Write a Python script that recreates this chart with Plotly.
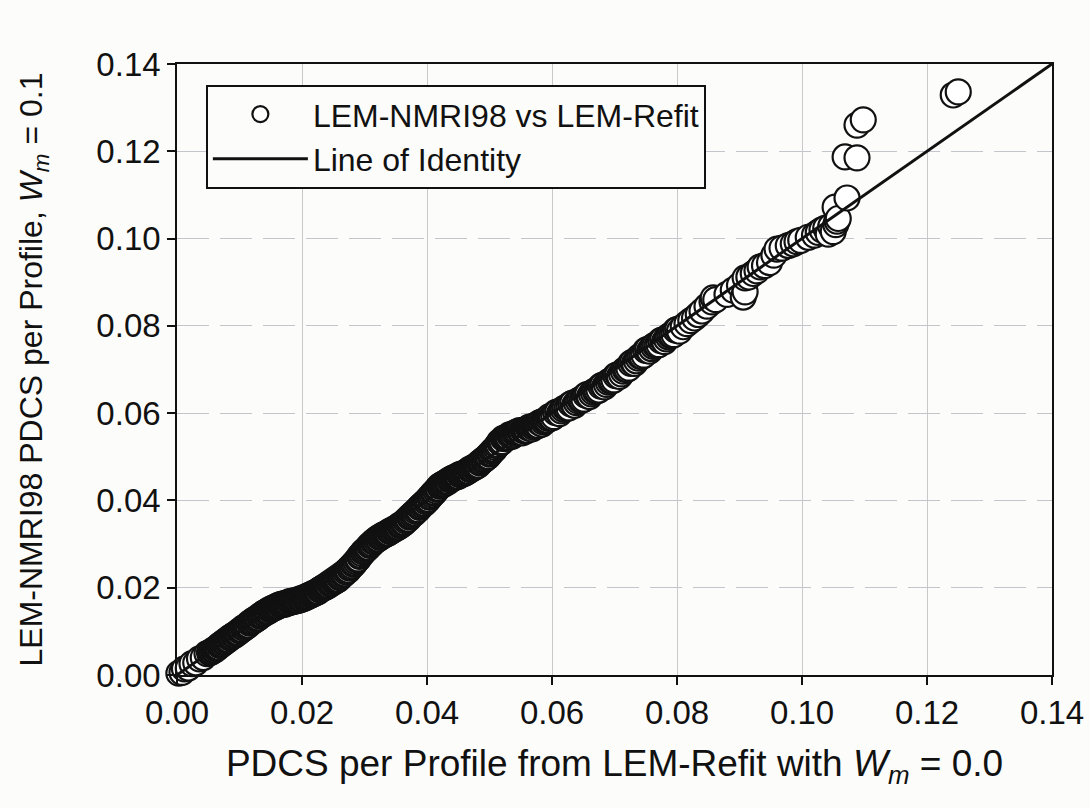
import plotly.graph_objects as go

# ---- data (PDCS per profile) ----
refit_x = [
    0.0003, 0.0008, 0.0012, 0.0018, 0.0024, 0.0030, 0.0036, 0.0042, 0.0048,
    0.0052, 0.0056, 0.0060, 0.0064, 0.0068, 0.0072, 0.0076, 0.0080, 0.0084, 0.0088,
    0.0092, 0.0096, 0.0100, 0.0104, 0.0108, 0.0112, 0.0116, 0.0120, 0.0124, 0.0128,
    0.0132, 0.0136, 0.0140, 0.0144, 0.0148, 0.0152, 0.0156, 0.0160, 0.0164, 0.0168,
    0.0172, 0.0176, 0.0180, 0.0184, 0.0188, 0.0192, 0.0196, 0.0200, 0.0204, 0.0208,
    0.0212, 0.0216, 0.0220, 0.0224, 0.0228, 0.0232, 0.0236, 0.0240, 0.0244, 0.0248,
    0.0252, 0.0256, 0.0260, 0.0264, 0.0268, 0.0272, 0.0276, 0.0280, 0.0284, 0.0288,
    0.0292, 0.0296, 0.0300, 0.0304, 0.0308, 0.0312, 0.0316, 0.0320, 0.0324, 0.0328,
    0.0332, 0.0336, 0.0340, 0.0344, 0.0348, 0.0352, 0.0356, 0.0360, 0.0364, 0.0368,
    0.0372, 0.0376, 0.0380, 0.0384, 0.0388, 0.0392, 0.0396, 0.0400, 0.0404, 0.0408,
    0.0412, 0.0416, 0.0420, 0.0424, 0.0428, 0.0432, 0.0436, 0.0440, 0.0444, 0.0448,
    0.0452, 0.0456, 0.0460, 0.0464, 0.0468, 0.0472, 0.0476, 0.0480, 0.0484, 0.0488,
    0.0492, 0.0496, 0.0500, 0.0504, 0.0508, 0.0512, 0.0516, 0.0520, 0.0524, 0.0528,
    0.0532, 0.0536, 0.0540, 0.0544, 0.0548, 0.0552, 0.0556, 0.0560, 0.0564, 0.0568,
    0.0572, 0.0576, 0.0580, 0.0584, 0.0588, 0.0592, 0.0596, 0.0600,
    0.0606, 0.0612, 0.0618, 0.0624, 0.0630, 0.0636, 0.0642, 0.0648, 0.0654, 0.0660,
    0.0666, 0.0672, 0.0678, 0.0684, 0.0690, 0.0696, 0.0702, 0.0708, 0.0714, 0.0720,
    0.0726, 0.0732, 0.0738, 0.0744, 0.0750, 0.0756, 0.0762, 0.0768, 0.0774, 0.0780,
    0.0786, 0.0792, 0.0798, 0.0804,
    0.0810, 0.0816, 0.0822, 0.0828, 0.0834, 0.0840, 0.0848, 0.0856, 0.0858, 0.0862,
    0.0880, 0.0890, 0.0900, 0.0906, 0.0909, 0.0909, 0.0915, 0.0922, 0.0928, 0.0933,
    0.0940, 0.0948, 0.0955, 0.0960, 0.0968, 0.0978, 0.0986, 0.0992, 0.0998, 0.1010,
    0.1020, 0.1026, 0.1032, 0.1038, 0.1042, 0.1046, 0.1050, 0.1054, 0.1056, 0.1058,
    0.1053, 0.1072, 0.1069, 0.1088, 0.1088, 0.1098, 0.1242, 0.1250,
]
nmri_y = [
    0.0004, 0.0006, 0.0014, 0.0016, 0.0026, 0.0028, 0.0037, 0.0040, 0.0049,
    0.0051, 0.0054, 0.0057, 0.0062, 0.0068, 0.0071, 0.0075, 0.0080, 0.0085, 0.0088,
    0.0091, 0.0096, 0.0101, 0.0104, 0.0108, 0.0113, 0.0119, 0.0122, 0.0125, 0.0130,
    0.0135, 0.0138, 0.0141, 0.0146, 0.0150, 0.0152, 0.0154, 0.0158, 0.0161, 0.0162,
    0.0162, 0.0165, 0.0168, 0.0168, 0.0169, 0.0171, 0.0174, 0.0174, 0.0176, 0.0180,
    0.0183, 0.0185, 0.0187, 0.0191, 0.0195, 0.0198, 0.0200, 0.0204, 0.0209, 0.0211,
    0.0214, 0.0218, 0.0223, 0.0228, 0.0232, 0.0239, 0.0245, 0.0250, 0.0256, 0.0264,
    0.0272, 0.0278, 0.0284, 0.0290, 0.0297, 0.0301, 0.0306, 0.0312, 0.0316, 0.0318,
    0.0321, 0.0325, 0.0329, 0.0331, 0.0334, 0.0338, 0.0343, 0.0345, 0.0349, 0.0356,
    0.0362, 0.0367, 0.0371, 0.0378, 0.0384, 0.0389, 0.0393, 0.0400, 0.0407, 0.0413,
    0.0418, 0.0426, 0.0433, 0.0436, 0.0438, 0.0443, 0.0447, 0.0450, 0.0452, 0.0455,
    0.0459, 0.0460, 0.0462, 0.0466, 0.0471, 0.0473, 0.0476, 0.0480, 0.0486, 0.0490,
    0.0494, 0.0500, 0.0506, 0.0512, 0.0517, 0.0525, 0.0534, 0.0535, 0.0542, 0.0543,
    0.0550, 0.0547, 0.0554, 0.0554, 0.0560, 0.0555, 0.0561, 0.0561, 0.0568, 0.0564,
    0.0571, 0.0571, 0.0578, 0.0575, 0.0583, 0.0584, 0.0592, 0.0589,
    0.0601, 0.0599, 0.0609, 0.0611, 0.0621, 0.0618, 0.0628, 0.0630, 0.0641, 0.0638,
    0.0648, 0.0651, 0.0662, 0.0660, 0.0671, 0.0674, 0.0686, 0.0684, 0.0696, 0.0700,
    0.0714, 0.0714, 0.0726, 0.0730, 0.0744, 0.0742, 0.0753, 0.0755, 0.0766, 0.0764,
    0.0775, 0.0778, 0.0790, 0.0788,
    0.0798, 0.0805, 0.0812, 0.0818, 0.0826, 0.0834, 0.0845, 0.0855, 0.0864, 0.0860,
    0.0872, 0.0882, 0.0893, 0.0866, 0.0878, 0.0910, 0.0912, 0.0920, 0.0926, 0.0935,
    0.0938, 0.0945, 0.0962, 0.0976, 0.0978, 0.0984, 0.0988, 0.0993, 0.0996, 0.1003,
    0.1008, 0.1014, 0.1020, 0.1024, 0.1010, 0.1028, 0.1016, 0.1032, 0.1040, 0.1046,
    0.1072, 0.1093, 0.1187, 0.1185, 0.1260, 0.1272, 0.1329, 0.1336,
]
# further profiles in the densely packed (dark) part of the cloud
refit_x_dense = [
    0.0054, 0.0058, 0.0062, 0.0066, 0.0070, 0.0074, 0.0078, 0.0082, 0.0086, 0.0090,
    0.0094, 0.0098, 0.0102, 0.0106, 0.0110, 0.0114, 0.0118, 0.0122, 0.0126, 0.0130,
    0.0134, 0.0138, 0.0142, 0.0146, 0.0150, 0.0154, 0.0158, 0.0162, 0.0166, 0.0170,
    0.0174, 0.0178, 0.0182, 0.0186, 0.0190, 0.0194, 0.0198, 0.0202, 0.0206, 0.0210,
    0.0214, 0.0218, 0.0222, 0.0226, 0.0230, 0.0234, 0.0238, 0.0242, 0.0246, 0.0250,
    0.0254, 0.0258, 0.0262, 0.0266, 0.0270, 0.0274, 0.0278, 0.0282, 0.0286, 0.0290,
    0.0294, 0.0298, 0.0302, 0.0306, 0.0310, 0.0314, 0.0318, 0.0322, 0.0326, 0.0330,
    0.0334, 0.0338, 0.0342, 0.0346, 0.0350, 0.0354, 0.0358, 0.0362, 0.0366, 0.0370,
    0.0374, 0.0378, 0.0382, 0.0386, 0.0390, 0.0394, 0.0398, 0.0402, 0.0406, 0.0410,
    0.0414, 0.0418, 0.0422, 0.0426, 0.0430, 0.0434, 0.0438, 0.0442, 0.0446, 0.0450,
    0.0454, 0.0458, 0.0462, 0.0466, 0.0470, 0.0474, 0.0478, 0.0482, 0.0486, 0.0490,
    0.0494, 0.0498, 0.0502, 0.0506, 0.0510, 0.0514,
    0.0518, 0.0522, 0.0526, 0.0530, 0.0534, 0.0538, 0.0542, 0.0546, 0.0550, 0.0554,
    0.0558, 0.0562, 0.0566, 0.0570, 0.0574, 0.0578, 0.0582, 0.0586, 0.0590, 0.0594,
    0.0598,
    0.0603, 0.0609, 0.0615, 0.0621, 0.0627, 0.0633, 0.0639, 0.0645, 0.0651, 0.0657,
    0.0663, 0.0669, 0.0675, 0.0681, 0.0687, 0.0693, 0.0699, 0.0705, 0.0711, 0.0717,
    0.0723, 0.0729, 0.0735, 0.0741, 0.0747, 0.0753, 0.0759, 0.0765, 0.0771, 0.0777,
    0.0783, 0.0789, 0.0795, 0.0801,
]
nmri_y_dense = [
    0.0052, 0.0057, 0.0060, 0.0064, 0.0069, 0.0074, 0.0078, 0.0081, 0.0086, 0.0091,
    0.0094, 0.0097, 0.0102, 0.0108, 0.0111, 0.0114, 0.0120, 0.0125, 0.0128, 0.0131,
    0.0136, 0.0141, 0.0144, 0.0146, 0.0150, 0.0154, 0.0156, 0.0158, 0.0161, 0.0163,
    0.0164, 0.0165, 0.0167, 0.0170, 0.0170, 0.0171, 0.0173, 0.0177, 0.0178, 0.0180,
    0.0183, 0.0187, 0.0189, 0.0191, 0.0196, 0.0200, 0.0202, 0.0205, 0.0209, 0.0214,
    0.0216, 0.0219, 0.0225, 0.0231, 0.0236, 0.0240, 0.0247, 0.0254, 0.0260, 0.0266,
    0.0274, 0.0282, 0.0287, 0.0292, 0.0298, 0.0305, 0.0309, 0.0312, 0.0316, 0.0321,
    0.0323, 0.0325, 0.0329, 0.0334, 0.0336, 0.0339, 0.0343, 0.0348, 0.0353, 0.0357,
    0.0364, 0.0370, 0.0375, 0.0379, 0.0386, 0.0392, 0.0397, 0.0402, 0.0409, 0.0417,
    0.0422, 0.0428, 0.0434, 0.0438, 0.0441, 0.0443, 0.0448, 0.0452, 0.0454, 0.0455,
    0.0459, 0.0462, 0.0464, 0.0467, 0.0471, 0.0476, 0.0478, 0.0481, 0.0487, 0.0493,
    0.0497, 0.0501, 0.0508, 0.0515, 0.0521, 0.0528,
    0.0532, 0.0542, 0.0543, 0.0545, 0.0550, 0.0550, 0.0556, 0.0556, 0.0557, 0.0560,
    0.0559, 0.0566, 0.0566, 0.0568, 0.0572, 0.0572, 0.0579, 0.0580, 0.0583, 0.0588,
    0.0589,
    0.0592, 0.0603, 0.0605, 0.0612, 0.0612, 0.0623, 0.0624, 0.0631, 0.0632, 0.0643,
    0.0644, 0.0651, 0.0653, 0.0664, 0.0666, 0.0674, 0.0676, 0.0688, 0.0690, 0.0700,
    0.0703, 0.0717, 0.0720, 0.0730, 0.0733, 0.0746, 0.0748, 0.0756, 0.0757, 0.0768,
    0.0770, 0.0778, 0.0780, 0.0792,
]
identity_x = [0.0, 0.14]
identity_y = [0.0, 0.14]
tick_vals = [0.00, 0.02, 0.04, 0.06, 0.08, 0.10, 0.12, 0.14]

# draw the profiles in order of increasing x, as in the original plot
pairs = sorted(zip(refit_x + refit_x_dense, nmri_y + nmri_y_dense))
all_x = [p[0] for p in pairs]
all_y = [p[1] for p in pairs]

bg = "#fcfcfa"
ink = "#111111"
font_family = "Liberation Sans, Arial, sans-serif"

fig = go.Figure()
fig.add_trace(go.Scatter(
    x=all_x, y=all_y, mode="markers", name="LEM-NMRI98 vs LEM-Refit",
    cliponaxis=False,
    marker=dict(symbol="circle", size=25, color="white",
                line=dict(color=ink, width=2.2)),
))
fig.add_trace(go.Scatter(
    x=identity_x, y=identity_y, mode="lines", name="Line of Identity",
    line=dict(color=ink, width=3),
))

axis_common = dict(
    range=[0, 0.14], tickvals=tick_vals, tickformat=".2f",
    showline=True, linecolor=ink, linewidth=1.6, mirror=True,
    ticks="outside", ticklen=8, tickwidth=1.6, tickcolor=ink,
    zeroline=False, tickfont=dict(size=33, color=ink, family=font_family),
)

fig.update_xaxes(
    **axis_common,
    showgrid=True, gridcolor="#c9c9c9", gridwidth=1, griddash="solid",
    title=dict(text="PDCS per Profile from LEM-Refit with <i>W<sub>m</sub></i> = 0.0",
               font=dict(size=37, color=ink, family=font_family), standoff=20),
)
fig.update_yaxes(
    **axis_common,
    showgrid=True, gridcolor="#c2c5cc", gridwidth=1, griddash="32px,11px",
    title=dict(text="LEM-NMRI98 PDCS per Profile, <i>W<sub>m</sub></i> = 0.1",
               font=dict(size=32, color=ink, family=font_family), standoff=44),
)

fig.update_layout(
    width=1090, height=808,
    margin=dict(l=177, r=38, t=64, b=133, autoexpand=False),
    paper_bgcolor=bg, plot_bgcolor=bg,
    font=dict(family=font_family, size=32, color=ink),
    showlegend=True,
    legend=dict(
        x=0.033, y=0.966, xanchor="left", yanchor="top",
        bgcolor=bg, bordercolor=ink, borderwidth=2,
        font=dict(size=32, color=ink, family=font_family),
        itemwidth=95, tracegroupgap=0,
    ),
)

fig.write_html("out.html")
